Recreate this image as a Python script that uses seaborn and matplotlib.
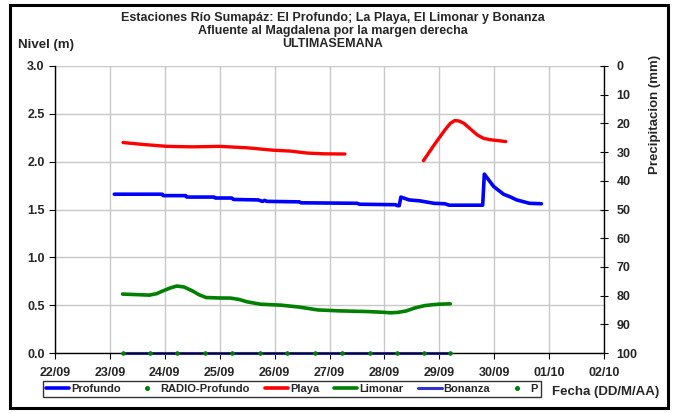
import numpy as np
import pandas as pd
import matplotlib
matplotlib.use("Agg")
import matplotlib.pyplot as plt
import seaborn as sns
from matplotlib.lines import Line2D
from matplotlib.patches import Rectangle

# ---- data (x = days after 22/09) ----
tick_labels = ["22/09", "23/09", "24/09", "25/09", "26/09", "27/09",
               "28/09", "29/09", "30/09", "01/10", "02/10"]

prof_x = [1.08, 1.95, 1.97, 2.38, 2.40, 2.90, 2.92, 3.22, 3.25, 3.70, 3.78, 3.82, 3.86,
          4.45, 4.48, 5.50, 5.55, 6.20, 6.24, 6.27, 6.30, 6.45, 6.65, 6.90, 7.10, 7.18,
          7.79, 7.82, 7.99, 8.17, 8.30, 8.41, 8.64, 8.86]
prof_y = [1.66, 1.66, 1.645, 1.645, 1.63, 1.63, 1.62, 1.62, 1.605, 1.60, 1.585, 1.595, 1.585,
          1.58, 1.57, 1.565, 1.555, 1.55, 1.54, 1.54, 1.63, 1.60, 1.59, 1.565, 1.56, 1.545,
          1.545, 1.87, 1.74, 1.66, 1.63, 1.60, 1.565, 1.56]

playa1_x = [1.24, 1.60, 2.04, 2.50, 3.00, 3.50, 3.97, 4.30, 4.59, 4.90, 5.28]
playa1_y = [2.20, 2.18, 2.16, 2.155, 2.16, 2.145, 2.12, 2.11, 2.09, 2.082, 2.08]
playa2_x = [6.71, 6.90, 7.10, 7.20, 7.28, 7.36, 7.45, 7.55, 7.69, 7.80, 7.92, 8.21]
playa2_y = [2.01, 2.17, 2.33, 2.40, 2.43, 2.425, 2.40, 2.35, 2.28, 2.245, 2.23, 2.21]

lim_x = [1.23, 1.50, 1.72, 1.85, 1.97, 2.10, 2.22, 2.35, 2.50, 2.62, 2.75, 3.00, 3.20,
         3.35, 3.50, 3.74, 4.12, 4.45, 4.79, 5.20, 5.70, 6.00, 6.11, 6.25, 6.40, 6.55,
         6.73, 6.88, 7.00, 7.20]
lim_y = [0.616, 0.61, 0.605, 0.62, 0.65, 0.68, 0.70, 0.69, 0.65, 0.61, 0.58, 0.575, 0.574,
         0.56, 0.535, 0.51, 0.50, 0.48, 0.45, 0.44, 0.433, 0.425, 0.42, 0.425, 0.44, 0.47,
         0.495, 0.505, 0.51, 0.514]

bon_x = [1.23, 7.20]
bon_y = [0.0, 0.0]

radio_x = [1.23, 1.73, 2.23, 2.73, 3.23, 3.73, 4.23, 4.73, 5.23, 5.73, 6.23, 6.73, 7.20]
radio_y = [0.0] * 13
p_x = radio_x
p_y = [0.0] * 13

# ---- figure ----
sns.set_style("white")
plt.rcParams["font.family"] = ["Liberation Sans", "DejaVu Sans"]
plt.rcParams["font.weight"] = "bold"

fig = plt.figure(figsize=(6.77, 4.13), dpi=100)
ax = fig.add_axes([55 / 677, 1 - 353 / 413, (604 - 55) / 677, (353 - 66) / 413])

BLUE = "#0000ff"
RED = "#ff0000"
GREEN = "#008000"
BON = "#3333cc"
DOT = "#008000"

df_p = pd.DataFrame({"x": prof_x, "y": prof_y})
sns.lineplot(data=df_p, x="x", y="y", ax=ax, color=BLUE, lw=2.6, estimator=None, sort=False)
for xs, ys in [(playa1_x, playa1_y), (playa2_x, playa2_y)]:
    sns.lineplot(x=xs, y=ys, ax=ax, color=RED, lw=2.4, estimator=None, sort=False)
sns.lineplot(x=lim_x, y=lim_y, ax=ax, color=GREEN, lw=2.6, estimator=None, sort=False)
sns.lineplot(x=bon_x, y=bon_y, ax=ax, color=BON, lw=2.2, estimator=None, sort=False, clip_on=False)
sns.scatterplot(x=radio_x, y=radio_y, ax=ax, color=DOT, s=9, marker="o", linewidth=0, zorder=5, clip_on=False)
sns.scatterplot(x=p_x, y=p_y, ax=ax, color=DOT, s=9, marker="o", linewidth=0, zorder=5, clip_on=False)

ax.set_xlim(0, 10)
ax.set_ylim(0, 3)
ax.set_xticks(range(11))
ax.set_xticklabels(tick_labels)
ax.set_yticks(np.arange(0, 3.01, 0.5))
ax.set_yticklabels([f"{v:.1f}" for v in np.arange(0, 3.01, 0.5)])
ax.grid(True, color="#c8c8c8", lw=1)
ax.set_axisbelow(True)
for s in ["top", "right"]:
    ax.spines[s].set_visible(False)
for s in ["left", "bottom"]:
    ax.spines[s].set_color("black")
    ax.spines[s].set_linewidth(1)
ax.tick_params(axis="both", which="both", length=4, direction="out", labelsize=9,
               color="black", left=True, bottom=True)
ax.tick_params(axis="x", pad=6)
for t in ax.get_xticklabels() + ax.get_yticklabels():
    t.set_fontweight("bold")
ax.set_xlabel("")
ax.set_ylabel("")

ax2 = ax.twinx()
ax2.set_position(ax.get_position())
ax2.set_ylim(100, 0)
ax2.set_yticks(range(0, 101, 10))
ax2.set_yticklabels([str(v) for v in range(0, 101, 10)])
for s in ["top", "left", "bottom"]:
    ax2.spines[s].set_visible(False)
ax2.spines["right"].set_color("black")
ax2.spines["right"].set_linewidth(1)
ax2.tick_params(axis="y", length=6, direction="inout", labelsize=9, color="black", right=True, pad=6)
for t in ax2.get_yticklabels():
    t.set_fontweight("bold")
ax2.grid(False)

# titles and labels
fig.text(333 / 677, 1 - 18 / 413, "Estaciones Río Sumapáz: El Profundo; La Playa, El Limonar y Bonanza",
         ha="center", va="center", fontsize=9, fontweight="bold")
fig.text(333 / 677, 1 - 31 / 413, "Afluente al Magdalena por la margen derecha",
         ha="center", va="center", fontsize=9, fontweight="bold")
fig.text(333 / 677, 1 - 44 / 413, "ULTIMASEMANA",
         ha="center", va="center", fontsize=9, fontweight="bold")
fig.text(18 / 677, 1 - 45 / 413, "Nivel (m)", ha="left", va="center", fontsize=9.5, fontweight="bold")
fig.text(655 / 677, 1 - 114 / 413, "Precipitacion (mm)", ha="center", va="center",
         rotation=90, fontsize=9.5, fontweight="bold")
fig.text(606 / 677, 1 - 392 / 413, "Fecha (DD/M/AA)", ha="center", va="center",
         fontsize=9.5, fontweight="bold")

# legend
handles = [
    Line2D([], [], color=BLUE, lw=2.6),
    Line2D([], [], color=DOT, marker="o", ms=2.6, lw=0),
    Line2D([], [], color=RED, lw=2.6),
    Line2D([], [], color=GREEN, lw=2.6),
    Line2D([], [], color=BON, lw=2.2),
    Line2D([], [], color=DOT, marker="o", ms=2.6, lw=0),
]
labels = ["Profundo", "RADIO-Profundo", "Playa", "Limonar", "Bonanza", "P"]
leg = fig.legend(handles, labels, ncol=6, loc="center left",
                 bbox_to_anchor=(37 / 677, 1 - 389 / 413), frameon=True,
                 handlelength=2.1, handletextpad=0.15, columnspacing=1.35,
                 borderpad=0.3, fancybox=False, edgecolor="black", prop={"weight": "bold", "size": 8})
leg.get_frame().set_linewidth(1)

# outer border
fig.patches.append(Rectangle((10 / 677, 5 / 413), 658 / 677, 403 / 413, transform=fig.transFigure,
                             fill=False, edgecolor="black", lw=2.2))

fig.savefig("out.png", dpi=100)
